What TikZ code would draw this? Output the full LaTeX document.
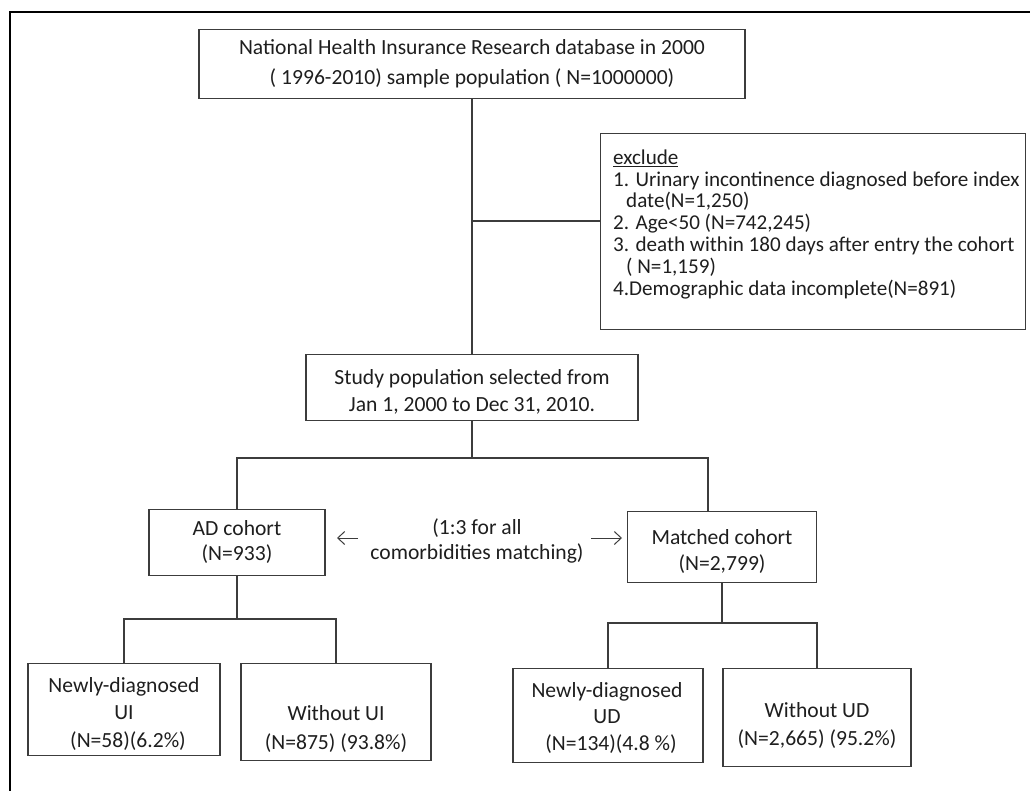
\documentclass[tikz,border=0pt]{standalone}
\usepackage{fontspec}
\setmainfont{Carlito}
\usetikzlibrary{arrows.meta}
\definecolor{boxgray}{HTML}{3C3C3C}
\definecolor{linegray}{HTML}{3C3C3C}
\definecolor{txtcol}{HTML}{1E1E1E}
\begin{document}
\begin{tikzpicture}[x=1bp,y=-1bp,
  box/.style={draw=boxgray, line width=1.3bp, inner sep=0, anchor=north},
  conn/.style={draw=linegray, line width=1.3bp},
  arr/.style={draw=linegray, line width=1bp, -{Straight Barb[length=7bp,width=13bp]}},
  txt/.style={font=\fontsize{21.6bp}{27bp}\selectfont, align=center, inner sep=0, anchor=base, text=txtcol},
  ltxt/.style={font=\fontsize{21.1bp}{21.8bp}\selectfont, align=left, inner sep=0, anchor=base west, text=txtcol}]
\useasboundingbox (0,0) rectangle (1030,791);
% outer frame (cropped at right and bottom)
\draw[line width=2.5bp] (10,800) -- (10,12) -- (1040,12);

% boxes
\node[box, minimum width=546bp, minimum height=69bp] (top) at (472,29) {};
\node[box, anchor=north west, minimum width=425bp, minimum height=196bp] (excl) at (600,133) {};
\node[box, minimum width=332bp, minimum height=66bp] (study) at (472,354) {};
\node[box, minimum width=176bp, minimum height=66bp] (AD) at (237,509) {};
\node[box, minimum width=189bp, minimum height=71bp] (matched) at (722,511) {};
\node[box, minimum width=192bp, minimum height=92bp] (nUI) at (124,663) {};
\node[box, minimum width=190bp, minimum height=97bp] (wUI) at (336,663) {};
\node[box, minimum width=190bp, minimum height=94bp] (nUD) at (608,668) {};
\node[box, minimum width=188bp, minimum height=98bp] (wUD) at (817,668) {};

% texts (base anchor = baseline of the last line)
\node[txt, font=\fontsize{21.6bp}{30bp}\selectfont] (ttop) at (472,85)
  {National Health Insurance Research database in 2000\\( 1996-2010) sample population ( N=1000000)};
\node[ltxt] (texcl) at (613,295)
  {\underline{exclude}\\
   1. Urinary incontinence diagnosed before index\\
   \hspace*{13bp}date(N=1,250)\\
   2. Age<50 (N=742,245)\\
   3. death within 180 days after entry the cohort\\
   \hspace*{13bp}( N=1,159)\\
   4.Demographic data incomplete(N=891)};
\node[txt] (tstudy) at (472,411) {Study population selected from\\Jan 1, 2000 to Dec 31, 2010.};
\node[txt, font=\fontsize{21.6bp}{25bp}\selectfont] (tAD) at (237,560) {AD cohort\\(N=933)};
\node[txt, font=\fontsize{21.6bp}{26bp}\selectfont] (tmatched) at (722,570) {Matched cohort\\(N=2,799)};
\node[txt, font=\fontsize{21.6bp}{25bp}\selectfont] (tmid) at (477,559) {(1:3 for all\\comorbidities matching)};
\node[txt, font=\fontsize{21.6bp}{27.5bp}\selectfont] (tnUI) at (124,747) {Newly-diagnosed\\UI\\\hspace*{8bp}(N=58)(6.2\%)};
\node[txt, font=\fontsize{21.6bp}{29bp}\selectfont] (twUI) at (336,749) {Without UI\\(N=875) (93.8\%)};
\node[txt, font=\fontsize{21.6bp}{26.5bp}\selectfont] (tnUD) at (607,750) {Newly-diagnosed\\UD\\\hspace*{8bp}(N=134)(4.8 \%)};
\node[txt, font=\fontsize{21.6bp}{28bp}\selectfont] (twUD) at (817,745) {Without UD\\(N=2,665) (95.2\%)};

% connectors
\coordinate (b1) at (472,221);
\draw[conn] (top.south) -- (study.north);
\draw[conn] (b1) -- (b1 -| excl.west);

\coordinate (j1) at (472,458);
\coordinate (mtop) at (708,511);
\draw[conn] (study.south) -- (j1);
\draw[conn] (AD.north) |- (j1) -| (mtop);

\coordinate (j2) at (237,619);
\draw[conn] (AD.south) -- (j2);
\draw[conn] (nUI.north) |- (j2) -| (wUI.north);

\coordinate (j3) at (722,623);
\draw[conn] (matched.south) -- (j3);
\draw[conn] (nUD.north) |- (j3) -| (wUD.north);

% matching arrows
\coordinate (al1) at (358,538);
\coordinate (al2) at (337,538);
\coordinate (ar1) at (591,538);
\coordinate (ar2) at (622,538);
\draw[arr] (al1) -- (al2);
\draw[arr] (ar1) -- (ar2);
\end{tikzpicture}
\end{document}
